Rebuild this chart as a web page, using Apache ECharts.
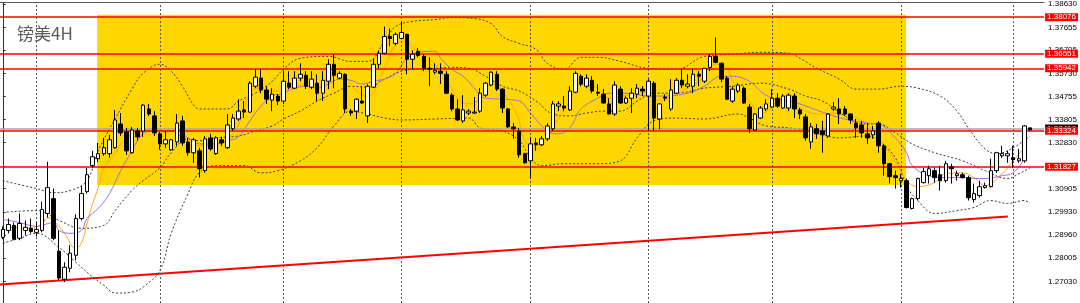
<!DOCTYPE html>
<html><head><meta charset="utf-8">
<script src="https://cdn.jsdelivr.net/npm/echarts@6/dist/echarts.min.js"></script>
<style>html,body{margin:0;padding:0;background:#fff}#c{width:1080px;height:303px}</style>
</head><body><div id="c"></div>
<script>
const chartTitle = '镑美4H';
// candles: [open, close, low, high]
const candles = [
[1.2887,1.2920,1.2879,1.2933],[1.2916,1.2941,1.2904,1.2966],[1.2937,1.2879,1.2875,1.2949],[1.2883,1.2945,1.2875,1.2987],
[1.2916,1.2929,1.2895,1.2958],[1.2925,1.2912,1.2904,1.2966],[1.2908,1.2920,1.2891,1.2949],[1.2916,1.3004,1.2908,1.3037],
[1.2987,1.3095,1.2970,1.3203],[1.3049,1.2883,1.2875,1.3091],[1.2829,1.2717,1.2708,1.2916],[1.2712,1.2762,1.2700,1.2783],
[1.2758,1.2821,1.2741,1.2854],[1.2812,1.2966,1.2791,1.2983],[1.2966,1.3070,1.2958,1.3103],[1.3078,1.3149,1.3070,1.3178],
[1.3187,1.3224,1.3178,1.3249],[1.3216,1.3237,1.3203,1.3282],[1.3237,1.3262,1.3228,1.3303],[1.3237,1.3295,1.3220,1.3316],
[1.3262,1.3378,1.3257,1.3420],[1.3361,1.3324,1.3311,1.3407],[1.3328,1.3249,1.3232,1.3345],[1.3241,1.3336,1.3237,1.3349],
[1.3332,1.3307,1.3291,1.3345],[1.3332,1.3440,1.3307,1.3445],[1.3424,1.3403,1.3395,1.3445],[1.3395,1.3324,1.3311,1.3415],
[1.3320,1.3278,1.3253,1.3328],[1.3278,1.3295,1.3262,1.3332],[1.3253,1.3295,1.3249,1.3299],[1.3286,1.3365,1.3270,1.3403],
[1.3374,1.3282,1.3270,1.3395],[1.3286,1.3241,1.3228,1.3303],[1.3241,1.3295,1.3199,1.3303],[1.3249,1.3174,1.3137,1.3262],
[1.3166,1.3299,1.3157,1.3311],[1.3303,1.3257,1.3249,1.3320],[1.3237,1.3303,1.3232,1.3311],[1.3295,1.3282,1.3270,1.3307],
[1.3262,1.3357,1.3257,1.3403],[1.3341,1.3386,1.3332,1.3403],[1.3382,1.3415,1.3374,1.3465],[1.3420,1.3411,1.3386,1.3457],
[1.3411,1.3532,1.3407,1.3540],[1.3519,1.3557,1.3511,1.3590],[1.3553,1.3503,1.3490,1.3590],[1.3503,1.3465,1.3445,1.3519],
[1.3461,1.3486,1.3415,1.3511],[1.3478,1.3457,1.3440,1.3486],[1.3457,1.3540,1.3445,1.3582],[1.3532,1.3515,1.3507,1.3582],
[1.3511,1.3553,1.3507,1.3582],[1.3553,1.3569,1.3540,1.3615],[1.3565,1.3519,1.3507,1.3582],[1.3515,1.3549,1.3507,1.3582],
[1.3532,1.3490,1.3457,1.3569],[1.3490,1.3544,1.3457,1.3582],[1.3540,1.3611,1.3507,1.3632],[1.3611,1.3565,1.3511,1.3653],
[1.3553,1.3573,1.3549,1.3582],[1.3569,1.3424,1.3407,1.3573],[1.3415,1.3407,1.3395,1.3424],[1.3415,1.3465,1.3382,1.3469],
[1.3457,1.3449,1.3445,1.3519],[1.3395,1.3519,1.3365,1.3528],[1.3515,1.3611,1.3511,1.3636],[1.3611,1.3657,1.3594,1.3669],
[1.3657,1.3727,1.3653,1.3769],[1.3727,1.3719,1.3686,1.3761],[1.3698,1.3736,1.3690,1.3744],[1.3719,1.3744,1.3715,1.3790],
[1.3736,1.3632,1.3569,1.3740],[1.3632,1.3653,1.3590,1.3669],[1.3665,1.3648,1.3640,1.3678],[1.3644,1.3594,1.3582,1.3653],
[1.3594,1.3590,1.3519,1.3640],[1.3578,1.3586,1.3569,1.3615],[1.3582,1.3573,1.3528,1.3615],[1.3569,1.3490,1.3486,1.3582],
[1.3482,1.3424,1.3415,1.3490],[1.3424,1.3378,1.3374,1.3465],[1.3374,1.3420,1.3365,1.3482],[1.3407,1.3415,1.3399,1.3424],
[1.3407,1.3411,1.3403,1.3474],[1.3415,1.3490,1.3407,1.3511],[1.3482,1.3532,1.3474,1.3536],[1.3524,1.3578,1.3519,1.3582],
[1.3569,1.3507,1.3499,1.3582],[1.3507,1.3428,1.3407,1.3511],[1.3424,1.3349,1.3345,1.3428],[1.3349,1.3341,1.3299,1.3365],
[1.3332,1.3232,1.3220,1.3345],[1.3237,1.3199,1.3195,1.3241],[1.3207,1.3278,1.3133,1.3307],[1.3282,1.3274,1.3249,1.3303],
[1.3274,1.3299,1.3270,1.3311],[1.3299,1.3353,1.3291,1.3365],[1.3341,1.3445,1.3332,1.3457],[1.3436,1.3445,1.3415,1.3457],
[1.3436,1.3428,1.3415,1.3478],[1.3420,1.3499,1.3415,1.3519],[1.3494,1.3573,1.3490,1.3582],[1.3561,1.3528,1.3519,1.3569],
[1.3519,1.3553,1.3511,1.3569],[1.3544,1.3499,1.3490,1.3561],[1.3494,1.3490,1.3478,1.3528],[1.3486,1.3449,1.3445,1.3507],
[1.3445,1.3403,1.3403,1.3469],[1.3403,1.3524,1.3395,1.3540],[1.3507,1.3449,1.3445,1.3519],[1.3449,1.3469,1.3445,1.3478],
[1.3469,1.3490,1.3407,1.3511],[1.3486,1.3511,1.3469,1.3528],[1.3507,1.3499,1.3478,1.3519],[1.3478,1.3540,1.3332,1.3549],
[1.3532,1.3386,1.3332,1.3540],[1.3382,1.3445,1.3341,1.3449],[1.3474,1.3469,1.3457,1.3486],[1.3424,1.3503,1.3415,1.3549],
[1.3490,1.3544,1.3486,1.3553],[1.3544,1.3524,1.3511,1.3590],[1.3519,1.3528,1.3511,1.3569],[1.3519,1.3569,1.3490,1.3590],
[1.3569,1.3561,1.3519,1.3582],[1.3540,1.3594,1.3532,1.3594],[1.3598,1.3644,1.3582,1.3653],[1.3644,1.3619,1.3615,1.3723],
[1.3615,1.3549,1.3536,1.3619],[1.3553,1.3465,1.3461,1.3561],[1.3457,1.3507,1.3449,1.3519],[1.3499,1.3524,1.3490,1.3532],
[1.3511,1.3449,1.3445,1.3519],[1.3432,1.3341,1.3324,1.3445],[1.3336,1.3403,1.3332,1.3407],[1.3386,1.3428,1.3382,1.3436],
[1.3424,1.3445,1.3415,1.3465],[1.3432,1.3469,1.3428,1.3507],[1.3469,1.3436,1.3428,1.3490],[1.3428,1.3478,1.3424,1.3486],
[1.3428,1.3482,1.3415,1.3490],[1.3478,1.3424,1.3386,1.3490],[1.3420,1.3403,1.3382,1.3428],[1.3391,1.3303,1.3291,1.3403],
[1.3286,1.3349,1.3257,1.3365],[1.3341,1.3320,1.3299,1.3361],[1.3332,1.3316,1.3241,1.3374],[1.3311,1.3403,1.3303,1.3407],
[1.3424,1.3432,1.3415,1.3453],[1.3424,1.3403,1.3361,1.3469],[1.3424,1.3403,1.3395,1.3436],[1.3403,1.3378,1.3361,1.3407],
[1.3365,1.3345,1.3303,1.3382],[1.3357,1.3324,1.3303,1.3374],[1.3320,1.3303,1.3278,1.3365],[1.3316,1.3332,1.3299,1.3353],
[1.3365,1.3270,1.3241,1.3374],[1.3270,1.3195,1.3145,1.3278],[1.3195,1.3141,1.3112,1.3199],[1.3145,1.3137,1.3091,1.3166],
[1.3124,1.3133,1.3095,1.3153],[1.3124,1.3012,1.3008,1.3133],[1.3008,1.3049,1.3004,1.3053],[1.3049,1.3133,1.3041,1.3137],
[1.3116,1.3162,1.3112,1.3178],[1.3145,1.3174,1.3112,1.3187],[1.3166,1.3137,1.3116,1.3178],[1.3149,1.3124,1.3083,1.3187],
[1.3124,1.3195,1.3116,1.3207],[1.3182,1.3174,1.3112,1.3195],[1.3145,1.3153,1.3124,1.3166],[1.3149,1.3137,1.3133,1.3157],
[1.3137,1.3053,1.3041,1.3145],[1.3045,1.3070,1.3033,1.3112],[1.3062,1.3099,1.3053,1.3124],[1.3095,1.3103,1.3091,1.3116],
[1.3099,1.3166,1.3095,1.3216],[1.3166,1.3241,1.3157,1.3245],[1.3228,1.3237,1.3220,1.3270],[1.3228,1.3237,1.3199,1.3249],
[1.3220,1.3212,1.3178,1.3270],[1.3207,1.3216,1.3199,1.3257],[1.3207,1.3353,1.3199,1.3357],[1.3345,1.3336,1.3336,1.3345]
];
const totalSlots = 186;
const priceTicks = [1.38630,1.37655,1.36705,1.35730,1.34755,1.33805,1.32830,1.31855,1.30905,1.29930,1.28960,1.28005,1.27030];
const levels = [1.38076,1.36551,1.35942,1.33324,1.31827];
const currentPrice = 1.33418;
const zoneBars = [16.8,160.9];
const zonePrices = [1.31063,1.38177];
const trendLine = [[-0.5,1.26903],[179.05,1.29744]];
const gridBars = [6,28,50,71,94,115,137,160,180];
// [bar index, price]
const bandUpper = [[0,1.3124],[6,1.3091],[9,1.3074],[12,1.3083],[15,1.3124],[17,1.3249],[20,1.3382],[23,1.3507],[25,1.3573],[28,1.3611],[30,1.3582],[32,1.3519],[34,1.3440],[35,1.3424],[40,1.3424],[42,1.3457],[45,1.3490],[48,1.3540],[50,1.3590],[53,1.3636],[58,1.3644],[62,1.3623],[65,1.3623],[68,1.3707],[70,1.3769],[73,1.3790],[77,1.3798],[80,1.3806],[84,1.3802],[87,1.3781],[89,1.3727],[92,1.3698],[95,1.3673],[97,1.3615],[100,1.3590],[103,1.3640],[106,1.3640],[110,1.3623],[115,1.3594],[120,1.3590],[125,1.3644],[130,1.3653],[135,1.3661],[140,1.3657],[142,1.3636],[145,1.3594],[149,1.3549],[152,1.3507],[156,1.3507],[160,1.3519],[163,1.3511],[167,1.3478],[170,1.3415],[172,1.3345],[175,1.3257],[177,1.3237],[180,1.3262],[183,1.3311]];
const bandMiddle = [[0,1.2991],[6,1.2999],[10,1.2958],[14,1.2925],[18,1.2937],[20,1.2999],[23,1.3083],[25,1.3124],[28,1.3178],[30,1.3241],[33,1.3299],[35,1.3291],[38,1.3303],[42,1.3311],[45,1.3332],[48,1.3353],[50,1.3382],[53,1.3415],[56,1.3457],[59,1.3490],[62,1.3519],[65,1.3515],[68,1.3549],[71,1.3582],[74,1.3590],[77,1.3594],[80,1.3598],[83,1.3594],[86,1.3561],[89,1.3519],[92,1.3499],[95,1.3457],[98,1.3403],[101,1.3395],[104,1.3407],[107,1.3415],[110,1.3415],[113,1.3457],[116,1.3490],[120,1.3490],[125,1.3511],[130,1.3519],[135,1.3532],[140,1.3507],[143,1.3478],[146,1.3457],[150,1.3395],[153,1.3361],[156,1.3361],[159,1.3324],[162,1.3278],[166,1.3241],[171,1.3207],[175,1.3166],[179,1.3133],[181,1.3153],[183,1.3178]];
const bandLower = [[0,1.2862],[3,1.2883],[6,1.2904],[10,1.2845],[13,1.2783],[16,1.2721],[18,1.2687],[20,1.2654],[23,1.2658],[25,1.2679],[28,1.2750],[30,1.2904],[33,1.3070],[35,1.3157],[38,1.3187],[43,1.3187],[46,1.3157],[49,1.3166],[53,1.3207],[56,1.3262],[59,1.3353],[62,1.3415],[65,1.3403],[68,1.3386],[71,1.3378],[77,1.3382],[83,1.3386],[85,1.3345],[89,1.3332],[92,1.3291],[94,1.3220],[96,1.3187],[100,1.3195],[106,1.3195],[110,1.3207],[113,1.3303],[116,1.3374],[120,1.3386],[125,1.3382],[131,1.3403],[133,1.3386],[136,1.3353],[140,1.3345],[145,1.3324],[149,1.3303],[154,1.3311],[156,1.3291],[159,1.3220],[161,1.3103],[163,1.3041],[166,1.2987],[170,1.2999],[173,1.3012],[176,1.3041],[179,1.3029],[182,1.3041],[183,1.3029]];
const maFast = [[0,1.2916],[2,1.2929],[5,1.2925],[7,1.2945],[8,1.2970],[9,1.2958],[11,1.2904],[13,1.2841],[14,1.2862],[15,1.2945],[16,1.3029],[17,1.3095],[18,1.3178],[20,1.3237],[21,1.3278],[22,1.3299],[23,1.3320],[25,1.3332],[27,1.3345],[29,1.3324],[30,1.3332],[32,1.3303],[33,1.3278],[35,1.3270],[38,1.3278],[39,1.3282],[41,1.3320],[43,1.3415],[44,1.3490],[46,1.3511],[48,1.3499],[50,1.3499],[52,1.3519],[55,1.3528],[56,1.3519],[58,1.3553],[60,1.3569],[61,1.3561],[63,1.3499],[65,1.3478],[66,1.3490],[67,1.3540],[68,1.3594],[70,1.3694],[72,1.3707],[73,1.3678],[75,1.3653],[77,1.3611],[79,1.3549],[81,1.3469],[83,1.3445],[85,1.3465],[87,1.3528],[89,1.3499],[91,1.3428],[92,1.3374],[93,1.3291],[95,1.3257],[97,1.3303],[99,1.3386],[101,1.3457],[103,1.3528],[106,1.3511],[108,1.3469],[110,1.3478],[113,1.3486],[115,1.3499],[117,1.3457],[120,1.3486],[122,1.3511],[124,1.3540],[127,1.3611],[129,1.3594],[130,1.3540],[133,1.3457],[135,1.3403],[137,1.3428],[140,1.3457],[142,1.3428],[145,1.3403],[147,1.3403],[149,1.3407],[152,1.3386],[154,1.3361],[156,1.3303],[159,1.3207],[161,1.3124],[163,1.3099],[166,1.3116],[168,1.3153],[171,1.3157],[173,1.3137],[175,1.3103],[178,1.3153],[180,1.3207],[182,1.3262]];
const maSlow = [[0,1.2962],[3,1.2949],[6,1.2933],[9,1.2949],[10,1.2916],[12,1.2904],[14,1.2916],[15,1.2966],[17,1.3008],[19,1.3070],[21,1.3166],[23,1.3249],[24,1.3291],[25,1.3320],[27,1.3336],[29,1.3332],[31,1.3332],[33,1.3303],[35,1.3278],[38,1.3278],[40,1.3291],[42,1.3307],[44,1.3374],[46,1.3436],[48,1.3478],[50,1.3490],[52,1.3511],[54,1.3519],[56,1.3511],[58,1.3528],[60,1.3549],[62,1.3544],[64,1.3528],[66,1.3540],[68,1.3549],[70,1.3573],[72,1.3636],[75,1.3665],[77,1.3665],[78,1.3636],[80,1.3590],[82,1.3561],[84,1.3511],[86,1.3469],[89,1.3465],[92,1.3457],[94,1.3407],[97,1.3332],[99,1.3320],[101,1.3345],[103,1.3424],[106,1.3469],[108,1.3490],[111,1.3490],[115,1.3478],[118,1.3478],[122,1.3490],[125,1.3519],[128,1.3561],[130,1.3561],[133,1.3540],[135,1.3499],[137,1.3469],[140,1.3457],[142,1.3445],[144,1.3428],[147,1.3403],[150,1.3382],[154,1.3365],[156,1.3361],[159,1.3303],[161,1.3241],[162,1.3187],[165,1.3145],[168,1.3137],[171,1.3137],[173,1.3133],[175,1.3133],[178,1.3145],[180,1.3157],[182,1.3216]];

const slots = Array.from({length: totalSlots}, (_, i) => String(i));
const chart = echarts.init(document.getElementById('c'), null, {renderer: 'canvas'});
const dashed = (d, color) => ({type: 'line', xAxisIndex: 1, data: d, smooth: 0.4, showSymbol: false, symbol: 'none', z: 4,
  lineStyle: {color: color, width: 1, type: [2, 2]}, silent: true});
const maLine = (d, color) => ({type: 'line', xAxisIndex: 1, data: d, smooth: 0.4, showSymbol: false, symbol: 'none', z: 4,
  lineStyle: {color: color, width: 1}, silent: true});
const levelLabel = (bg) => ({show: true, position: 'end', distance: 1, formatter: p => Number(p.value).toFixed(5), color: '#fff',
  backgroundColor: bg, fontSize: 8, fontFamily: 'Liberation Sans', padding: [0, 2, 0, 2], lineHeight: 8});
chart.setOption({
  animation: false,
  backgroundColor: '#ffffff',
  title: {text: chartTitle, left: 12, top: 20, textStyle: {fontSize: 17, fontWeight: 'normal', color: '#5a5a5a', fontFamily: 'Noto Sans CJK SC'}},
  grid: {left: 0, right: 33, top: 1, bottom: 0},
  xAxis: [
    {type: 'category', data: slots, position: 'top', boundaryGap: true,
     axisLine: {show: true, lineStyle: {color: '#555', width: 1}}, axisTick: {show: false}, axisLabel: {show: false}, splitLine: {show: false}},
    {type: 'value', min: -0.5, max: totalSlots - 0.5, show: false, splitLine: {show: false}}
  ],
  yAxis: {type: 'value', position: 'right', min: 1.26125, max: 1.38688, scale: true,
    axisLine: {show: true, lineStyle: {color: '#333', width: 1}},
    axisTick: {show: true, length: 3, lineStyle: {color: '#333'}, customValues: priceTicks},
    axisLabel: {show: true, margin: 4, fontSize: 8, color: '#000', fontFamily: 'Liberation Sans', customValues: priceTicks,
      formatter: v => v.toFixed(5)},
    splitLine: {show: false}},
  series: [
    {type: 'line', xAxisIndex: 1, data: [], z: 1, silent: true,
     markArea: {silent: true, itemStyle: {color: '#FFD700', opacity: 1},
       data: [[{xAxis: zoneBars[0], yAxis: zonePrices[1]}, {xAxis: zoneBars[1], yAxis: zonePrices[0]}]]}},
    {type: 'line', xAxisIndex: 1, data: [], z: 2, silent: true,
     markLine: {silent: true, symbol: ['none', 'none'], label: {show: false}, precision: 3,
       lineStyle: {color: '#555', width: 1, type: [2, 2]},
       data: gridBars.map(b => ({xAxis: b}))}},
    {type: 'line', xAxisIndex: 1, data: [], z: 3, silent: true,
     markLine: {silent: true, symbol: ['none', 'none'], precision: 5,
       lineStyle: {color: '#a6a6a6', width: 1.5, type: 'solid'},
       label: levelLabel('#000'),
       data: [{yAxis: currentPrice}]}},
    {type: 'line', xAxisIndex: 1, data: [], z: 3, silent: true,
     markLine: {silent: true, symbol: ['none', 'none'], precision: 5,
       lineStyle: {color: '#ff0000', width: 1.5, type: 'solid'},
       label: levelLabel('#ff0000'),
       data: levels.map(v => ({yAxis: v}))}},
    {type: 'line', xAxisIndex: 1, data: trendLine, z: 3, showSymbol: false, symbol: 'none', silent: true,
     lineStyle: {color: '#ff0000', width: 2}},
    dashed(bandUpper, '#3a3a3a'),
    dashed(bandMiddle, '#3a3a3a'),
    dashed(bandLower, '#3a3a3a'),
    maLine(maFast, '#ffa31a'),
    maLine(maSlow, '#a070e0'),
    {type: 'candlestick', xAxisIndex: 0, data: candles, z: 5, barWidth: 4, silent: true,
     itemStyle: {color: '#ffffff', color0: '#000000', borderColor: '#000000', borderColor0: '#000000', borderWidth: 1}}
  ]
});
</script></body></html>
